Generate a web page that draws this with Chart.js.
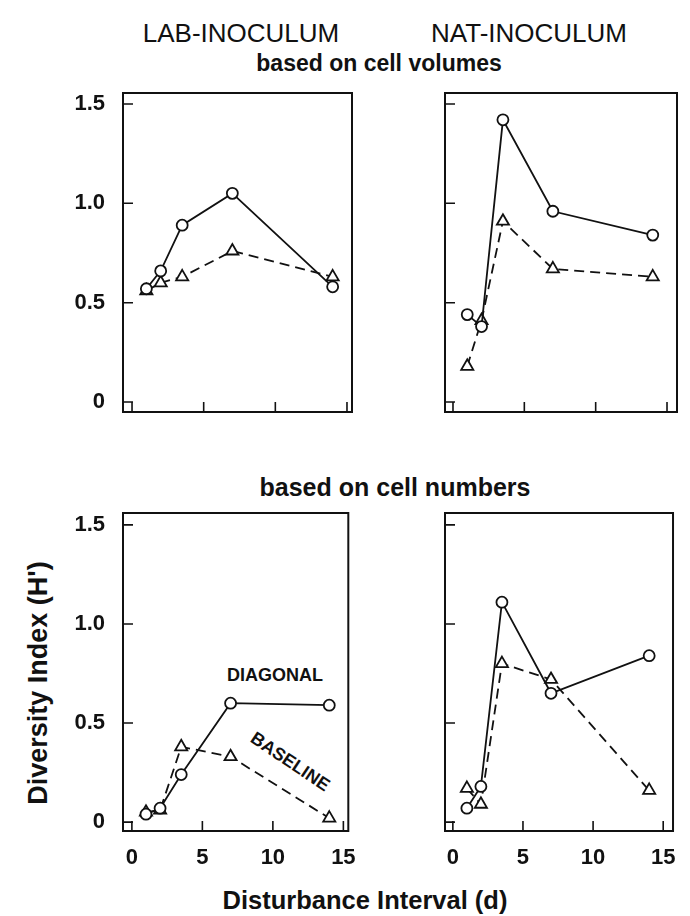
<!DOCTYPE html>
<html>
<head>
<meta charset="utf-8">
<script src="https://cdn.jsdelivr.net/npm/chart.js@4"></script>
<style>
body { margin: 0; background: #fff; width: 690px; height: 916px; position: relative; overflow: hidden; font-family: "Liberation Sans", Arial, sans-serif; color: #111; }
canvas { position: absolute; }
.t { position: absolute; white-space: nowrap; transform: translate(-50%, -50%); }
.b { font-weight: bold; }
</style>
</head>
<body>
<div class="t" style="left:241px; top:33px; font-size:26px;">LAB-INOCULUM</div>
<div class="t" style="left:529px; top:33px; font-size:26px;">NAT-INOCULUM</div>
<div class="t b" style="left:379px; top:63px; font-size:23px;">based on cell volumes</div>
<div class="t b" style="left:395px; top:487px; font-size:25px;">based on cell numbers</div>
<div class="t b" style="left:38px; top:683px; font-size:27px; transform:translate(-50%,-50%) rotate(-90deg);">Diversity Index (H')</div>
<div class="t b" style="left:365px; top:900px; font-size:25.5px;">Disturbance Interval (d)</div>
<div class="t b" style="left:275px; top:675px; font-size:18px;">DIAGONAL</div>
<div class="t b" style="left:290px; top:762px; font-size:18px; transform:translate(-50%,-50%) rotate(34deg);">BASELINE</div>

<canvas id="tl" width="370" height="383" style="left:0px; top:61px;"></canvas>
<canvas id="tr" width="310" height="383" style="left:380px; top:61px;"></canvas>
<canvas id="bl" width="370" height="399" style="left:0px; top:481px;"></canvas>
<canvas id="br" width="310" height="399" style="left:380px; top:481px;"></canvas>

<script>
// disturbance interval in days
var intervals = [1, 2, 3.5, 7, 14];

// based on cell volumes
var labVolDiagonal = [0.57, 0.66, 0.89, 1.05, 0.58];
var labVolBaseline = [0.56, 0.60, 0.63, 0.76, 0.63];
var natVolDiagonal = [0.44, 0.38, 1.42, 0.96, 0.84];
var natVolBaseline = [0.18, 0.41, 0.91, 0.67, 0.63];

// based on cell numbers
var labNumDiagonal = [0.04, 0.07, 0.24, 0.60, 0.59];
var labNumBaseline = [0.05, 0.06, 0.38, 0.33, 0.02];
var natNumDiagonal = [0.07, 0.18, 1.11, 0.65, 0.84];
var natNumBaseline = [0.17, 0.09, 0.80, 0.72, 0.16];

var xTicks = [0, 5, 10, 15];
var yTicks = [0, 0.5, 1.0, 1.5];

var ink = '#111';
var tickFont = { family: '"Liberation Sans", Arial, sans-serif', size: 22, weight: 'bold' };

// box round the plot area, with the ticks pointing inwards
var frame = {
    id: 'frame',
    beforeDatasetsDraw: function(chart) {
        var c = chart.ctx, a = chart.chartArea;
        var sx = chart.scales.x, sy = chart.scales.y;
        c.save();
        c.strokeStyle = ink;
        c.lineWidth = 2;
        c.strokeRect(a.left, a.top, a.right - a.left, a.bottom - a.top);
        c.lineWidth = 1.6;
        c.beginPath();
        sx.ticks.forEach(function(t) {
            var px = sx.getPixelForValue(t.value);
            c.moveTo(px, a.bottom);
            c.lineTo(px, a.bottom - 10);
        });
        sy.ticks.forEach(function(t) {
            var py = sy.getPixelForValue(t.value);
            c.moveTo(a.left, py);
            c.lineTo(a.left + 10, py);
        });
        c.stroke();
        c.restore();
    }
};

function points(ys) {
    return intervals.map(function(x, i) { return { x: x, y: ys[i] }; });
}

function panel(id, diag, base, opt) {
    return new Chart(document.getElementById(id), {
        type: 'line',
        data: {
            datasets: [{
                label: 'DIAGONAL',
                data: points(diag),
                borderColor: ink,
                borderWidth: 1.8,
                pointStyle: 'circle',
                pointRadius: 5.5,
                pointBackgroundColor: '#fff',
                pointBorderColor: ink,
                pointBorderWidth: 1.8
            }, {
                label: 'BASELINE',
                data: points(base),
                borderColor: ink,
                borderWidth: 1.8,
                borderDash: [10, 6],
                pointStyle: 'triangle',
                pointRadius: 7,
                pointBackgroundColor: '#fff',
                pointBorderColor: ink,
                pointBorderWidth: 1.8
            }]
        },
        options: {
            responsive: false,
            animation: false,
            events: [],
            layout: { padding: opt.padding },
            plugins: { legend: { display: false }, tooltip: { enabled: false } },
            scales: {
                x: {
                    type: 'linear',
                    min: opt.xmin,
                    max: opt.xmax,
                    afterBuildTicks: function(s) { s.ticks = xTicks.map(function(v) { return { value: v }; }); },
                    afterFit: function(s) { s.height = opt.xh; },
                    grid: { display: false, drawTicks: false },
                    border: { display: false },
                    ticks: { display: opt.showX, font: tickFont, color: ink, padding: 14, maxRotation: 0 }
                },
                y: {
                    type: 'linear',
                    min: opt.ymin,
                    max: opt.ymax,
                    afterBuildTicks: function(s) { s.ticks = yTicks.map(function(v) { return { value: v }; }); },
                    afterFit: function(s) { s.width = opt.yw; },
                    grid: { display: false, drawTicks: false },
                    border: { display: false },
                    ticks: {
                        display: opt.showY, font: tickFont, color: ink, padding: 18,
                        callback: function(v) { return v === 0 ? '0' : v.toFixed(1); }
                    }
                }
            }
        },
        plugins: [frame]
    });
}

panel('tl', labVolDiagonal, labVolBaseline, {
    padding: { top: 32, right: 18, bottom: 32, left: 0 }, yw: 123, xh: 0,
    xmin: -0.63, xmax: 15.35, ymin: -0.05, ymax: 1.555, showX: false, showY: true
});
panel('tr', natVolDiagonal, natVolBaseline, {
    padding: { top: 32, right: 13, bottom: 32, left: 0 }, yw: 65, xh: 0,
    xmin: -0.56, xmax: 15.7, ymin: -0.05, ymax: 1.555, showX: false, showY: false
});
panel('bl', labNumDiagonal, labNumBaseline, {
    padding: { top: 32, right: 18, bottom: 0, left: 0 }, yw: 123, xh: 49,
    xmin: -0.63, xmax: 15.35, ymin: -0.045, ymax: 1.56, showX: true, showY: true
});
panel('br', natNumDiagonal, natNumBaseline, {
    padding: { top: 32, right: 13, bottom: 0, left: 0 }, yw: 65, xh: 49,
    xmin: -0.56, xmax: 15.7, ymin: -0.045, ymax: 1.56, showX: true, showY: false
});
</script>
</body>
</html>
